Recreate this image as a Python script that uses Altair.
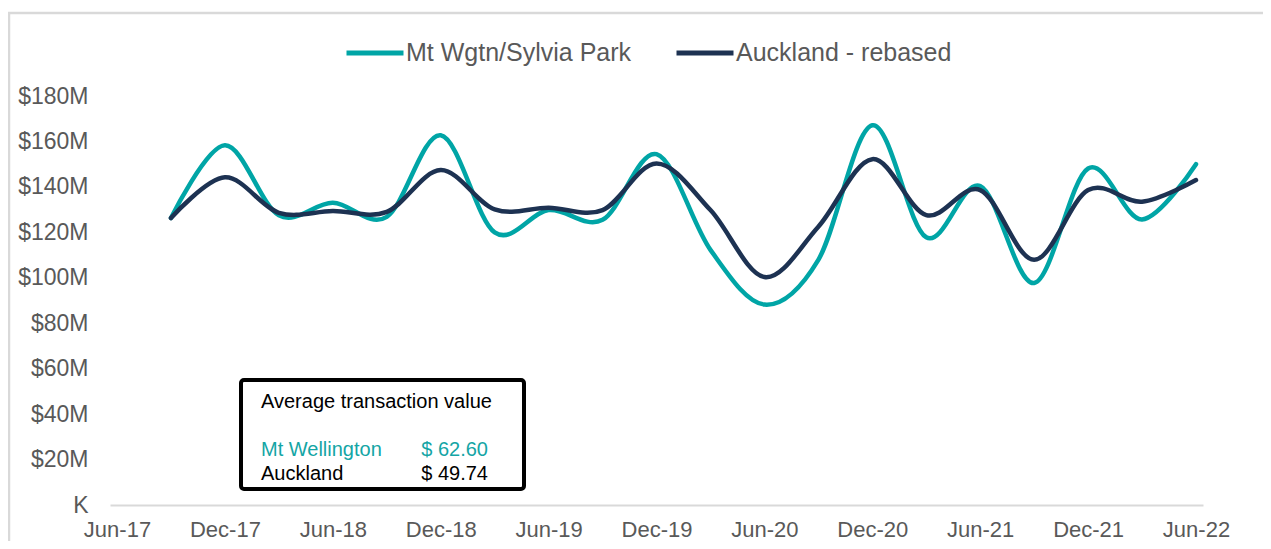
import altair as alt
import pandas as pd

# ---- data ----
quarters = ["Sep-17", "Dec-17", "Mar-18", "Jun-18", "Sep-18", "Dec-18", "Mar-19", "Jun-19",
            "Sep-19", "Dec-19", "Mar-20", "Jun-20", "Sep-20", "Dec-20", "Mar-21", "Jun-21",
            "Sep-21", "Dec-21", "Mar-22", "Jun-22"]
mt_wgtn = [126.3, 158.3, 127.5, 133.0, 126.8, 162.7, 120.0, 129.8,
           125.5, 154.4, 112.3, 88.2, 107.9, 167.1, 117.8, 140.4,
           97.7, 148.1, 125.7, 150.0]
auckland = [126.3, 144.2, 128.6, 129.4, 129.0, 147.4, 130.1, 130.8,
            129.8, 150.3, 129.8, 100.3, 122.5, 152.2, 127.6, 138.6,
            107.9, 138.6, 133.5, 143.0]
series_names = ["Mt Wgtn/Sylvia Park", "Auckland - rebased"]
series_colors = ["#00A5A6", "#1D3252"]
tick_labels = ["Jun-17", "Dec-17", "Jun-18", "Dec-18", "Jun-19", "Dec-19",
               "Jun-20", "Dec-20", "Jun-21", "Dec-21", "Jun-22"]
y_ticks = [0, 20, 40, 60, 80, 100, 120, 140, 160, 180]

box_title = "Average transaction value"
box_names = ["Mt Wellington", "Auckland"]
box_values = [62.60, 49.74]
box_colors = ["#14A5A5", "#000000"]

# ---- helpers ----
def month_index(label):
    d = pd.to_datetime(label, format="%b-%y")
    return (d.year - 2017) * 12 + d.month - 6

rows = []
for name, vals in zip(series_names, [mt_wgtn, auckland]):
    for q, v in zip(quarters, vals):
        rows.append({"quarter": q, "m": month_index(q), "value": v, "series": name})
df = pd.DataFrame(rows)

tick_vals = [month_index(t) for t in tick_labels]
label_expr = "[" + ",".join("'" + t + "'" for t in tick_labels) + "][round(datum.value/6)]"

FONT = "Liberation Sans"
GRAY = "#595959"

x_enc = alt.X("m:Q",
              scale=alt.Scale(domain=[-0.39, 60.39], nice=False, zero=False),
              axis=alt.Axis(values=tick_vals, labelExpr=label_expr, title=None, grid=False,
                            ticks=False, tickSize=0, labelPadding=14, labelFontSize=22,
                            labelColor=GRAY, labelFont=FONT, domainColor="#D9D9D9",
                            domainWidth=2, labelFlush=False))
y_enc = alt.Y("value:Q",
              scale=alt.Scale(domain=[0, 180], nice=False),
              axis=alt.Axis(values=y_ticks, labelExpr="datum.value == 0 ? 'K' : '$' + datum.value + 'M'",
                            title=None, grid=False, domain=False, ticks=False, tickSize=0,
                            labelPadding=22, labelFontSize=23, labelColor=GRAY, labelFont=FONT))

lines = alt.Chart(df).mark_line(interpolate="cardinal", strokeWidth=4.5, strokeCap="round",
                                strokeJoin="round").encode(
    x=x_enc,
    y=y_enc,
    color=alt.Color("series:N",
                    scale=alt.Scale(domain=series_names, range=series_colors),
                    sort=series_names,
                    legend=alt.Legend(title=None, orient="none", direction="horizontal",
                                      legendX=234, legendY=-74, symbolType="stroke",
                                      symbolSize=3249, symbolStrokeWidth=5,
                                      labelFontSize=25, labelFont=FONT, labelColor=GRAY,
                                      labelOffset=0, columnPadding=34, padding=0,
                                      labelLimit=400)),
    detail="series:N",
)

# outer chart border (decorative frame)
border = alt.Chart(pd.DataFrame({"a": [0]})).mark_rect(
    fillOpacity=0, stroke="#D9D9D9", strokeWidth=2.5).encode(
    x=alt.value(-101), x2=alt.value(1300), y=alt.value(-83), y2=alt.value(600))

# annotation box
box = alt.Chart(pd.DataFrame({"a": [0]})).mark_rect(fill="white", stroke="black", strokeWidth=4,
                                                    cornerRadius=3).encode(
    x=alt.value(131), x2=alt.value(414), y=alt.value(284), y2=alt.value(393))

title_txt = alt.Chart(pd.DataFrame({"t": [box_title]})).mark_text(
    align="left", baseline="alphabetic", fontSize=20, font=FONT, color="black").encode(
    x=alt.value(151), y=alt.value(312), text="t:N")

names_df = pd.DataFrame({"name": box_names,
                         "val": ["$ " + format(v, ".2f") for v in box_values],
                         "col": box_colors,
                         "row": [0, 1]})
row_scale = alt.Scale(domain=[0, 1], range=[360, 384])
name_txt = alt.Chart(names_df).mark_text(
    align="left", baseline="alphabetic", fontSize=20, font=FONT).encode(
    x=alt.value(151),
    y=alt.Y("row:Q", scale=row_scale, axis=None),
    text="name:N",
    color=alt.Color("col:N", scale=None))
val_txt = alt.Chart(names_df).mark_text(
    align="right", baseline="alphabetic", fontSize=20, font=FONT).encode(
    x=alt.value(378),
    y=alt.Y("row:Q", scale=row_scale, axis=None),
    text="val:N",
    color=alt.Color("col:N", scale=None))

chart = alt.layer(border, lines, box, title_txt, name_txt, val_txt).resolve_scale(
    y="independent").properties(
    width=1093, height=409,
    autosize=alt.AutoSizeParams(type="none"),
    padding={"left": 102, "top": 88, "right": 60, "bottom": 36},
    background="white",
).configure_view(stroke=None)

chart.save("out.html", embed_options={"renderer": "svg", "actions": False})
